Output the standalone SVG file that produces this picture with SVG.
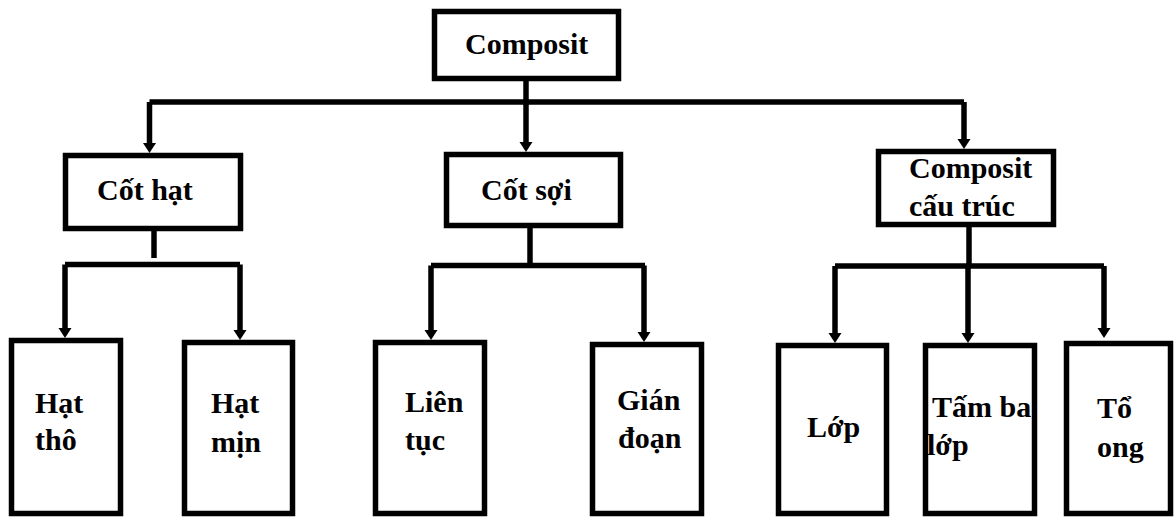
<svg xmlns="http://www.w3.org/2000/svg" width="1174" height="517" viewBox="0 0 1174 517">
<style>
.box{fill:#fff;stroke:#000;stroke-width:5.5}
.lbl{font-family:'Liberation Serif','Tinos','Times New Roman','DejaVu Serif',serif;font-weight:700;font-size:30px;fill:#000}
.ln{fill:none;stroke:#000;stroke-width:5.5;stroke-linejoin:miter}
</style>
<defs>
<marker id="ah" viewBox="0 -7 12 14" refX="2" refY="0" markerWidth="12" markerHeight="14" markerUnits="userSpaceOnUse" orient="auto">
<path d="M0,-6.5 L10,0 L0,6.5 z" fill="#000"/>
</marker>
</defs>
<rect width="1174" height="517" fill="#fff"/>
<g id="connectors">
<path class="ln" d="M526,81 V102"/>
<path class="ln" d="M149.5,102 H964"/>
<path class="ln" d="M149.5,102 V145" marker-end="url(#ah)"/>
<path class="ln" d="M526,102 V144" marker-end="url(#ah)"/>
<path class="ln" d="M964,102 V141" marker-end="url(#ah)"/>
<path class="ln" d="M154,231 V258"/>
<path class="ln" d="M65,264.5 H240"/>
<path class="ln" d="M65,264.5 V330" marker-end="url(#ah)"/>
<path class="ln" d="M240,264.5 V332" marker-end="url(#ah)"/>
<path class="ln" d="M530,228 V265.5"/>
<path class="ln" d="M431,265.5 H645"/>
<path class="ln" d="M431,265.5 V332" marker-end="url(#ah)"/>
<path class="ln" d="M644,265.5 V334" marker-end="url(#ah)"/>
<path class="ln" d="M969,227 V266"/>
<path class="ln" d="M835,266 H1104"/>
<path class="ln" d="M835,266 V335" marker-end="url(#ah)"/>
<path class="ln" d="M968,266 V335" marker-end="url(#ah)"/>
<path class="ln" d="M1104,266 V330" marker-end="url(#ah)"/>
</g>
<g id="composit">
<rect class="box" x="434.5" y="11.5" width="184" height="67"/>
<text class="lbl" x="465" y="54">Composit</text>
</g>
<g id="cot-hat">
<rect class="box" x="65.5" y="155.5" width="175" height="73"/>
<text class="lbl" x="97" y="200">Cốt hạt</text>
</g>
<g id="cot-soi">
<rect class="box" x="446.5" y="154.5" width="174" height="71"/>
<text class="lbl" x="481" y="200">Cốt sợi</text>
</g>
<g id="composit-cau-truc">
<rect class="box" x="878.5" y="151.5" width="175" height="73"/>
<text class="lbl" x="909" y="178">Composit</text>
<text class="lbl" x="909" y="216">cấu trúc</text>
</g>
<g id="hat-tho">
<rect class="box" x="11.5" y="340.5" width="109" height="173"/>
<text class="lbl" x="35" y="413">Hạt</text>
<text class="lbl" x="35" y="450">thô</text>
</g>
<g id="hat-min">
<rect class="box" x="184.5" y="342.5" width="108" height="171"/>
<text class="lbl" x="211" y="413">Hạt</text>
<text class="lbl" x="211" y="452">mịn</text>
</g>
<g id="lien-tuc">
<rect class="box" x="375.5" y="342.5" width="109" height="171"/>
<text class="lbl" x="405" y="412">Liên</text>
<text class="lbl" x="405" y="450">tục</text>
</g>
<g id="gian-doan">
<rect class="box" x="592.5" y="344.5" width="109" height="169"/>
<text class="lbl" x="617" y="410">Gián</text>
<text class="lbl" x="618" y="448">đoạn</text>
</g>
<g id="lop">
<rect class="box" x="778.5" y="345.5" width="108" height="168"/>
<text class="lbl" x="807" y="437">Lớp</text>
</g>
<g id="tam-ba-lop">
<rect class="box" x="925.5" y="345.5" width="109" height="168"/>
<text class="lbl" x="932" y="417">Tấm ba</text>
<text class="lbl" x="927" y="455">lớp</text>
</g>
<g id="to-ong">
<rect class="box" x="1066.5" y="343.5" width="104" height="170"/>
<text class="lbl" x="1097" y="418">Tổ</text>
<text class="lbl" x="1097" y="457">ong</text>
</g>
</svg>
